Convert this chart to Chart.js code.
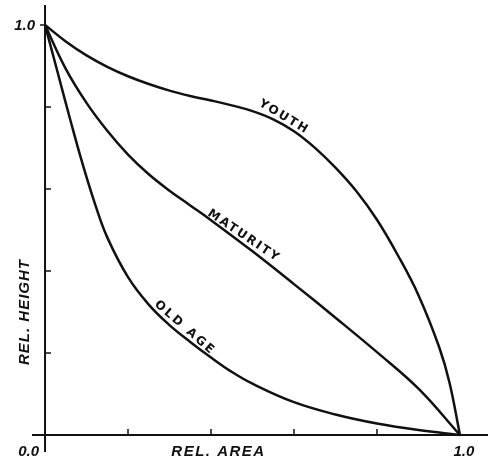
<!DOCTYPE html>
<html>
<head>
<meta charset="utf-8">
<script src="https://cdn.jsdelivr.net/npm/chart.js@4"></script>
<style>
    html, body { margin: 0; padding: 0; background: #fff; }
    #wrap { width: 488px; height: 462px; }
</style>
</head>
<body>
<div id="wrap"><canvas id="curveChart" width="488" height="462"></canvas></div>
<script>
// relative area (x) / relative height (y)
var youthX = [0, 0.05, 0.1, 0.15, 0.2, 0.25, 0.3, 0.35, 0.4, 0.45, 0.5, 0.55, 0.6, 0.65, 0.7, 0.75, 0.8, 0.85, 0.9, 0.95, 0.975, 1];
var youthY = [1, 0.96, 0.926, 0.898, 0.875, 0.856, 0.84, 0.827, 0.816, 0.804, 0.79, 0.77, 0.741, 0.701, 0.652, 0.595, 0.525, 0.439, 0.341, 0.214, 0.127, 0];

var maturityX = [0, 0.05, 0.1, 0.15, 0.2, 0.25, 0.3, 0.35, 0.4, 0.5, 0.6, 0.7, 0.8, 0.9, 1];
var maturityY = [1, 0.893, 0.81, 0.742, 0.684, 0.636, 0.596, 0.56, 0.524, 0.448, 0.368, 0.286, 0.202, 0.113, 0];

var oldAgeX = [0, 0.03, 0.06, 0.09, 0.12, 0.15, 0.2, 0.25, 0.3, 0.35, 0.4, 0.45, 0.5, 0.6, 0.7, 0.8, 0.9, 1];
var oldAgeY = [1, 0.886, 0.772, 0.663, 0.565, 0.482, 0.385, 0.318, 0.268, 0.227, 0.189, 0.154, 0.125, 0.08, 0.05, 0.028, 0.012, 0];

var tickValues = [0.2, 0.4, 0.6, 0.8];
var xLabels = ['0.0', '1.0'];
var yLabels = ['1.0'];

function toPoints(xs, ys) {
    var pts = [];
    for (var i = 0; i < xs.length; i++) {
        pts.push({ x: xs[i], y: ys[i] });
    }
    return pts;
}

var INK = '#111';
var FONT = 'italic bold 15px "Liberation Sans", "DejaVu Sans", sans-serif';
var CURVE_FONT = 'bold 12px "DejaVu Sans", "Liberation Sans", sans-serif';

function rotatedText(ctx, text, x, y, deg, font, spacing) {
    ctx.save();
    ctx.translate(x, y);
    ctx.rotate(deg * Math.PI / 180);
    ctx.font = font;
    ctx.fillStyle = INK;
    ctx.textAlign = 'center';
    ctx.textBaseline = 'middle';
    if (spacing) ctx.letterSpacing = spacing;
    ctx.fillText(text, 0, 0);
    ctx.restore();
}

// axes through the origin, inward ticks and the hand lettering
var axesPlugin = {
    id: 'axesPlugin',
    afterDatasetsDraw: function (chart) {
        var ctx = chart.ctx;
        var area = chart.chartArea;
        var xs = chart.scales.x;
        var ys = chart.scales.y;
        var x0 = xs.getPixelForValue(0);
        var y0 = ys.getPixelForValue(0);

        ctx.save();
        ctx.strokeStyle = INK;
        ctx.lineWidth = 2;
        ctx.beginPath();
        ctx.moveTo(area.left, y0);
        ctx.lineTo(area.right, y0);
        ctx.moveTo(x0, area.top);
        ctx.lineTo(x0, area.bottom);
        ctx.stroke();

        ctx.lineWidth = 1.5;
        ctx.beginPath();
        tickValues.forEach(function (v) {
            var px = xs.getPixelForValue(v);
            ctx.moveTo(px, y0);
            ctx.lineTo(px, y0 - 6);
            var py = ys.getPixelForValue(v);
            ctx.moveTo(x0, py);
            ctx.lineTo(x0 + 6, py);
        });
        var top = ys.getPixelForValue(1);
        ctx.moveTo(x0 - 5, top);
        ctx.lineTo(x0, top);
        ctx.stroke();

        ctx.fillStyle = INK;
        ctx.font = FONT;
        ctx.textBaseline = 'middle';
        ctx.textAlign = 'right';
        ctx.fillText(xLabels[0], x0 - 6, y0 + 17);
        ctx.textAlign = 'center';
        ctx.fillText(xLabels[1], xs.getPixelForValue(1) + 4, y0 + 17);
        ctx.textAlign = 'right';
        ctx.fillText(yLabels[0], x0 - 10, top + 1);
        ctx.restore();

        rotatedText(ctx, 'REL. AREA', xs.getPixelForValue(0.418), y0 + 17, 0, FONT, '1.5px');
        rotatedText(ctx, 'REL. HEIGHT', 25, ys.getPixelForValue(0.3), -90, FONT, '1px');
        rotatedText(ctx, 'YOUTH', 284, 117, 31, CURVE_FONT, '2px');
        rotatedText(ctx, 'MATURITY', 244, 236, 34, CURVE_FONT, '2px');
        rotatedText(ctx, 'OLD AGE', 185, 328, 41, CURVE_FONT, '2.5px');
    }
};

document.addEventListener('DOMContentLoaded', function () {
    var ctxCurves = document.getElementById('curveChart').getContext('2d');

    function series(label, xs, ys) {
        return {
            label: label,
            data: toPoints(xs, ys),
            showLine: true,
            borderColor: INK,
            borderWidth: 2.5,
            pointRadius: 0,
            tension: 0.4,
            fill: false
        };
    }

    var curveChart = new Chart(ctxCurves, {
        type: 'scatter',
        data: {
            datasets: [
                series('Youth', youthX, youthY),
                series('Maturity', maturityX, maturityY),
                series('Old Age', oldAgeX, oldAgeY)
            ]
        },
        options: {
            responsive: false,
            animation: false,
            layout: { padding: { left: 32, right: 0, top: 5, bottom: 10 } },
            plugins: {
                legend: { display: false },
                tooltip: { enabled: false }
            },
            scales: {
                x: { type: 'linear', display: false, min: -0.0314, max: 1.0676 },
                y: { type: 'linear', display: false, min: -0.0415, max: 1.0488 }
            }
        },
        plugins: [axesPlugin]
    });
});
</script>
</body>
</html>
